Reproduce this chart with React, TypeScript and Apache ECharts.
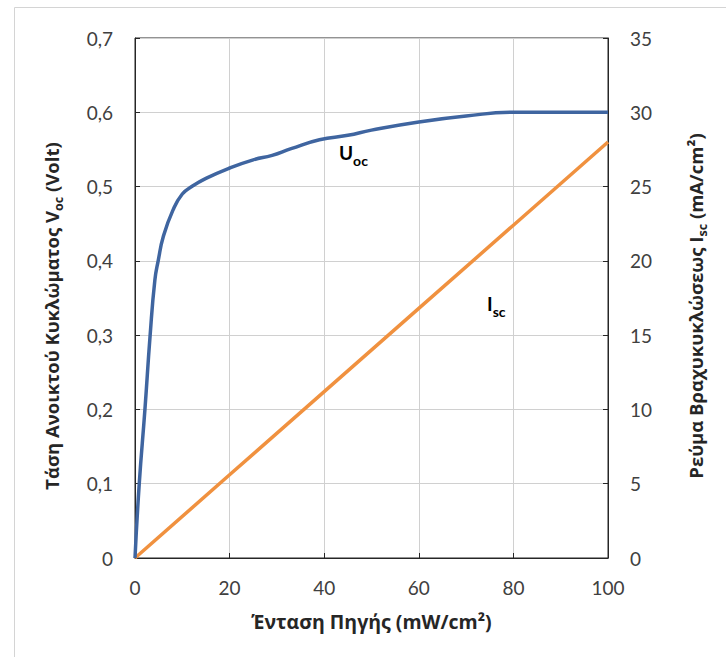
import { useEffect, useRef } from "react";
import * as echarts from "echarts";

// Light intensity (mW/cm²) and open-circuit voltage (V)
const intensity = [0, 0.9, 2.1, 3.2, 4.2, 4.9, 6, 8, 10, 12, 15, 20, 25, 29, 33, 39, 45, 50, 60, 70, 80, 85, 90, 100];
const vocValues = [0, 0.1, 0.2, 0.3, 0.374, 0.4, 0.433, 0.468, 0.49, 0.5, 0.511, 0.525, 0.536, 0.542, 0.551, 0.563, 0.569, 0.576, 0.587, 0.595, 0.6, 0.6, 0.6, 0.6];

// Light intensity (mW/cm²) and short-circuit current density (mA/cm²)
const iscIntensity = [0, 20, 40, 60, 80, 100];
const iscValues = [0, 5.6, 11.2, 16.8, 22.4, 28];

const FONT = "Lato";
const TITLE_FONT = "Open Sans";
const TICK_COLOR = "#404040";
const TITLE_COLOR = "#262626";

const titleRich = {
  t: { fontFamily: TITLE_FONT, fontWeight: "bold", fontSize: 18.5, lineHeight: 30, color: TITLE_COLOR },
  s: { fontFamily: TITLE_FONT, fontWeight: "bold", fontSize: 12.5, verticalAlign: "top", padding: [16, 0, 0, 0], color: TITLE_COLOR },
};

const labelRich = {
  m: { fontFamily: FONT, fontWeight: "bold", fontSize: 19, lineHeight: 30, color: "#1a1a1a" },
  s: { fontFamily: FONT, fontWeight: "bold", fontSize: 14, verticalAlign: "top", padding: [16, 0, 0, 0], color: "#1a1a1a" },
};

export default function App() {
  const ref = useRef<HTMLDivElement>(null);

  useEffect(() => {
    const chart = echarts.init(ref.current!, null, { renderer: "svg" });
    chart.setOption({
      animation: false,
      backgroundColor: "#ffffff",
      grid: {
        left: 135,
        right: 118,
        top: 38,
        bottom: 99,
        show: true,
        borderColor: "#262626",
        borderWidth: 1,
        containLabel: false,
      },
      xAxis: {
        type: "value",
        min: 0,
        max: 100,
        interval: 20,
        name: "Ένταση Πηγής (mW/cm²)",
        nameLocation: "middle",
        nameGap: 53,
        nameTextStyle: { fontFamily: TITLE_FONT, fontWeight: "bold", fontSize: 19.5, color: TITLE_COLOR },
        axisLine: { show: true, lineStyle: { color: "#262626", width: 1 } },
        axisTick: { show: true, inside: true, length: 5, lineStyle: { color: "#262626" } },
        axisLabel: { fontFamily: FONT, fontSize: 19, color: TICK_COLOR, margin: 20 },
        splitLine: { show: true, lineStyle: { color: "#d0d0d0", width: 1 } },
      },
      yAxis: [
        {
          type: "value",
          min: 0,
          max: 0.7,
          interval: 0.1,
          position: "left",
          name: "{t|Τάση Ανοικτού Κυκλώματος V}{s|oc}{t| (Volt)}",
          nameLocation: "middle",
          nameGap: 69,
          nameRotate: 90,
          nameTextStyle: { rich: titleRich, padding: [0, 36, 0, 0] },
          axisLine: { show: true, lineStyle: { color: "#262626", width: 1 } },
          axisTick: { show: true, inside: true, length: 5, lineStyle: { color: "#262626" } },
          axisLabel: {
            fontFamily: FONT,
            fontSize: 19,
            color: TICK_COLOR,
            margin: 22,
            formatter: (v: number) => (v === 0 ? "0" : v.toFixed(1).replace(".", ",")),
          },
          splitLine: { show: true, lineStyle: { color: "#d0d0d0", width: 1 } },
        },
        {
          type: "value",
          min: 0,
          max: 35,
          interval: 5,
          position: "right",
          name: "{t|Ρεύμα Βραχυκυκλώσεως I}{s|sc}{t| (mA/cm²)}",
          nameLocation: "middle",
          nameGap: 72,
          nameRotate: 90,
          nameTextStyle: { rich: titleRich, padding: [0, 16, 0, 0] },
          axisLine: { show: true, lineStyle: { color: "#262626", width: 1 } },
          axisTick: { show: true, inside: true, length: 5, lineStyle: { color: "#262626" } },
          axisLabel: { fontFamily: FONT, fontSize: 19, color: TICK_COLOR, margin: 22 },
          splitLine: { show: false },
        },
      ],
      series: [
        {
          name: "Uoc",
          type: "line",
          yAxisIndex: 0,
          data: intensity.map((x, i) => [x, vocValues[i]]),
          smooth: 0.5,
          showSymbol: false,
          lineStyle: { color: "#3f65a0", width: 3.5 },
          z: 3,
        },
        {
          name: "Isc",
          type: "line",
          yAxisIndex: 1,
          data: iscIntensity.map((x, i) => [x, iscValues[i]]),
          showSymbol: false,
          lineStyle: { color: "#f0913f", width: 3.5 },
          z: 2,
        },
      ],
      graphic: [
        {
          type: "rect",
          left: 12,
          top: 5,
          shape: { width: 760, height: 700 },
          style: { fill: "none", stroke: "#d4d4d4", lineWidth: 1 },
          silent: true,
          z: -10,
        },
        {
          type: "text",
          left: 339,
          top: 143,
          style: { text: "{m|U}{s|oc}", rich: labelRich },
          z: 10,
        },
        {
          type: "text",
          left: 487,
          top: 294,
          style: { text: "{m|I}{s|sc}", rich: labelRich },
          z: 10,
        },
      ],
    });
    return () => chart.dispose();
  }, []);

  return (
    <div
      ref={ref}
      style={{ position: "fixed", left: 0, top: 0, width: 726, height: 657, background: "#ffffff" }}
    />
  );
}
